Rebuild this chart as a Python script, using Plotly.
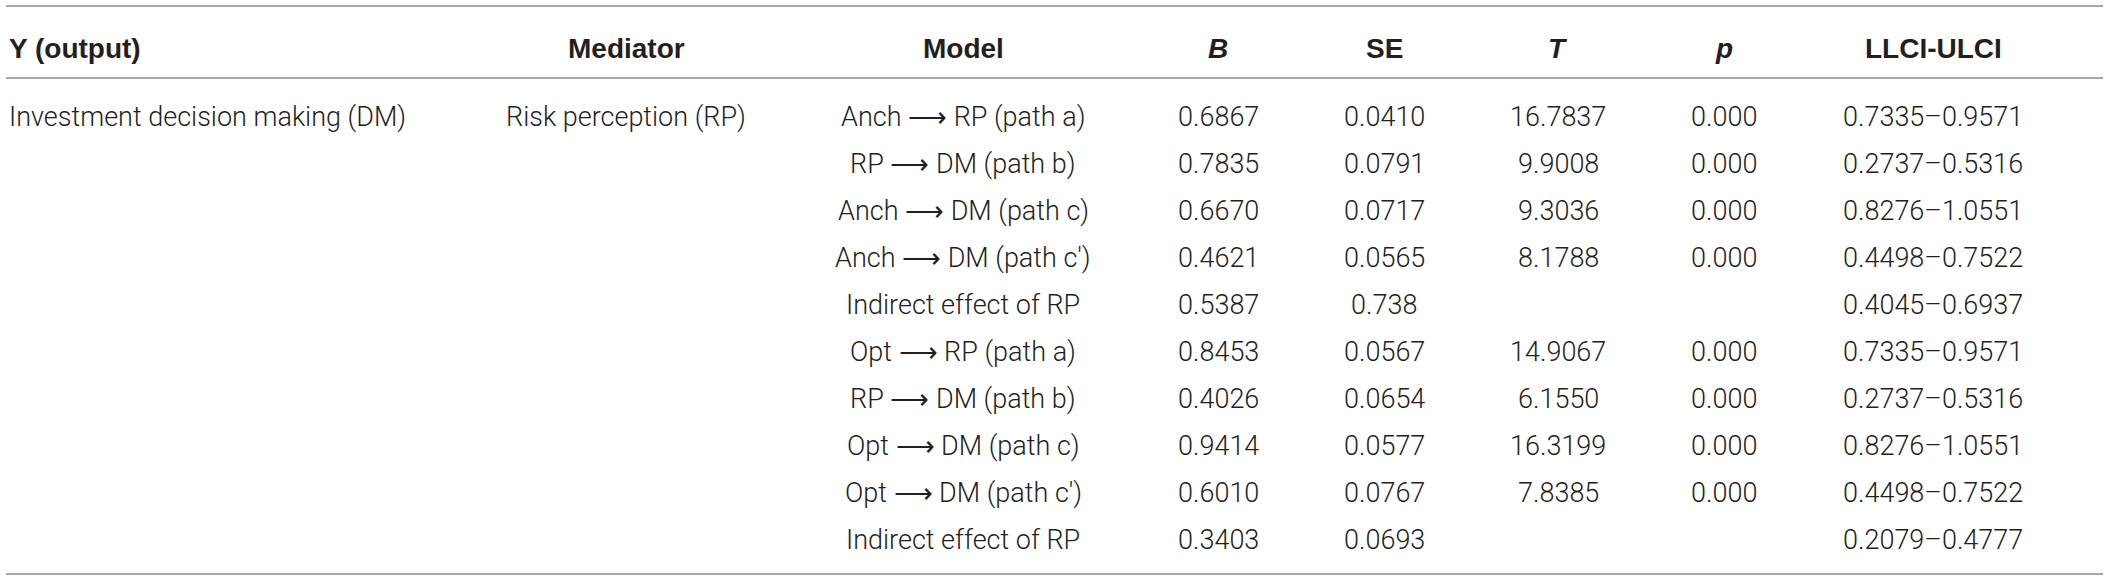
import plotly.graph_objects as go

# ---- data ----
headers = ["Y (output)", "Mediator", "Model", "B", "SE", "T", "p", "LLCI-ULCI"]
header_italic = [False, False, False, True, False, True, True, False]
y_output = ["Investment decision making (DM)"]
mediator = ["Risk perception (RP)"]
models = ["Anch → RP (path a)", "RP → DM (path b)", "Anch → DM (path c)", "Anch → DM (path c′)",
          "Indirect effect of RP", "Opt → RP (path a)", "RP → DM (path b)", "Opt → DM (path c)",
          "Opt → DM (path c′)", "Indirect effect of RP"]
b_vals = ["0.6867", "0.7835", "0.6670", "0.4621", "0.5387", "0.8453", "0.4026", "0.9414", "0.6010", "0.3403"]
se_vals = ["0.0410", "0.0791", "0.0717", "0.0565", "0.738", "0.0567", "0.0654", "0.0577", "0.0767", "0.0693"]
t_vals = ["16.7837", "9.9008", "9.3036", "8.1788", "", "14.9067", "6.1550", "16.3199", "7.8385", ""]
p_vals = ["0.000", "0.000", "0.000", "0.000", "", "0.000", "0.000", "0.000", "0.000", ""]
ci_vals = ["0.7335–0.9571", "0.2737–0.5316", "0.8276–1.0551", "0.4498–0.7522", "0.4045–0.6937",
           "0.7335–0.9571", "0.2737–0.5316", "0.8276–1.0551", "0.4498–0.7522", "0.2079–0.4777"]

# ---- layout constants ----
W, H = 2118, 580
col_x = [7, 626, 963, 1218, 1384, 1558, 1724, 1933]
col_anchor = ["left", "center", "center", "center", "center", "center", "center", "center"]
header_y = 48
row_y0, row_dy = 117, 47.0
line_ys = [6, 78, 574]
line_x0, line_x1 = 6, 2103
text_color = "#231f20"
body_font = dict(family="Roboto, Liberation Sans, sans-serif", size=27, color=text_color, weight=300)
head_font = dict(family="Liberation Sans, Arial, sans-serif", size=28, color=text_color)
arrow_html = '<span style="font-family:\'DejaVu Sans\';font-weight:200">⟶</span>'


def fmt(s):
    return s.replace("→", arrow_html)


fig = go.Figure()

for ly in line_ys:
    fig.add_shape(type="line", x0=line_x0, x1=line_x1, y0=ly, y1=ly, xref="x", yref="y",
                  line=dict(color="#a8a8a8", width=2))

for i, h in enumerate(headers):
    txt = f"<b><i>{h}</i></b>" if header_italic[i] else f"<b>{h}</b>"
    fig.add_annotation(x=col_x[i], y=header_y, xref="x", yref="y", text=txt, showarrow=False,
                       xanchor=col_anchor[i], yanchor="middle", font=head_font)

columns = [y_output, mediator, models, b_vals, se_vals, t_vals, p_vals, ci_vals]
for ci, col in enumerate(columns):
    for ri, val in enumerate(col):
        if not val:
            continue
        fig.add_annotation(x=col_x[ci], y=row_y0 + ri * row_dy, xref="x", yref="y", text=fmt(val),
                           showarrow=False, xanchor=col_anchor[ci], yanchor="middle", font=body_font)

fig.update_xaxes(range=[0, W], visible=False, fixedrange=True)
fig.update_yaxes(range=[H, 0], visible=False, fixedrange=True)
fig.update_layout(width=W, height=H, margin=dict(l=0, r=0, t=0, b=0),
                  plot_bgcolor="white", paper_bgcolor="white", showlegend=False)
fig.write_html("out.html", post_script="document.body.style.margin='0';document.body.style.overflow='hidden';",
               config={"displayModeBar": False})
